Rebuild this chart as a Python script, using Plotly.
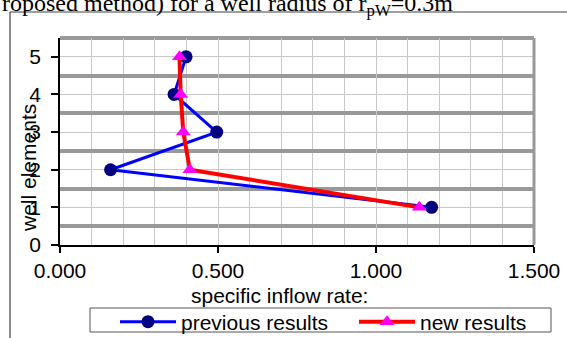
import plotly.graph_objects as go

# Well element index (1 = lowest element of the well)
elements = [1, 2, 3, 4, 5]
# Specific inflow rate per well element
previous_results = [1.176, 0.160, 0.496, 0.361, 0.399]
new_results = [1.137, 0.411, 0.390, 0.382, 0.378]

x_tick_values = [0.0, 0.5, 1.0, 1.5]
y_tick_values = [0, 1, 2, 3, 4, 5]

caption_text = "roposed method) for a well radius of r<sub>pW</sub>=0.3m"
x_title = "specific inflow rate:"
y_title = "well elements"

SANS = "Liberation Sans, Arial, sans-serif"
SERIF = "Liberation Serif, Times New Roman, serif"

W, H = 567, 338
L, R, T, B = 60, 33, 38, 93
PW, PH = W - L - R, H - T - B


def px_x(px):
    """Page pixel column -> paper x."""
    return (px - L) / PW


def px_y(py):
    """Page pixel row -> paper y."""
    return (H - B - py) / PH


fig = go.Figure()
fig.add_trace(go.Scatter(
    x=previous_results, y=elements, mode="lines+markers", name="previous results",
    line=dict(color="#0000FF", width=3),
    marker=dict(symbol="circle", size=13, color="#000080"),
))
fig.add_trace(go.Scatter(
    x=new_results, y=elements, mode="lines+markers", name="new results",
    line=dict(color="#FF0000", width=4),
    marker=dict(symbol="triangle-up", size=13, color="#FF00FF"),
))

axis_font = dict(family=SANS, size=21, color="black")

fig.update_layout(
    width=W, height=H,
    margin=dict(l=L, r=R, t=T, b=B, autoexpand=False),
    paper_bgcolor="white", plot_bgcolor="white",
    showlegend=True,
    legend=dict(
        orientation="h", x=px_x(115), y=px_y(301.5), xanchor="left", yanchor="top",
        font=axis_font, itemwidth=56, entrywidth=168,
        bgcolor="rgba(0,0,0,0)", borderwidth=0,
    ),
    xaxis=dict(
        range=[0, 1.5], tickmode="array", tickvals=x_tick_values, tickformat=".3f",
        showline=True, linecolor="black", linewidth=1.5,
        ticks="outside", ticklen=6, tickwidth=1.5, tickcolor="black",
        showgrid=True, gridcolor="#c8c8c8", gridwidth=1,
        minor=dict(tick0=0, dtick=0.1, showgrid=True, gridcolor="#c8c8c8", gridwidth=1),
        zeroline=False, tickfont=axis_font, fixedrange=True,
    ),
    yaxis=dict(
        range=[0, 5.5], tickmode="array", tickvals=y_tick_values,
        showline=True, linecolor="black", linewidth=1.5,
        ticks="outside", ticklen=7, tickwidth=1.5, tickcolor="black",
        ticklabelstandoff=6,
        showgrid=True, gridcolor="#c8c8c8", gridwidth=1,
        minor=dict(tick0=0.5, dtick=1, showgrid=True, gridcolor="#999999", gridwidth=4),
        zeroline=False, tickfont=axis_font, fixedrange=True,
    ),
)

# Plot-area border: thick grey top and right edges
fig.add_shape(type="line", xref="paper", yref="paper", x0=0, x1=1, y0=1, y1=1,
              line=dict(color="#999999", width=4), layer="below")
fig.add_shape(type="line", xref="paper", yref="paper", x0=1, x1=1, y0=0, y1=1,
              line=dict(color="#999999", width=3), layer="above")

# Chart frame (left and top edges)
fig.add_shape(type="line", xref="paper", yref="paper",
              x0=px_x(10), x1=px_x(10), y0=px_y(12), y1=px_y(345),
              line=dict(color="#404040", width=1.2))
fig.add_shape(type="line", xref="paper", yref="paper",
              x0=px_x(10), x1=px_x(575), y0=px_y(12), y1=px_y(12),
              line=dict(color="#404040", width=1.2))

# Legend box
fig.add_shape(type="rect", xref="paper", yref="paper",
              x0=px_x(90), x1=px_x(551), y0=px_y(332), y1=px_y(308),
              line=dict(color="#555555", width=1), fillcolor="rgba(0,0,0,0)")

# Caption, axis titles
fig.add_annotation(text=caption_text, xref="paper", yref="paper",
                   x=px_x(0), y=px_y(22), xanchor="left", yanchor="bottom",
                   showarrow=False, font=dict(family=SERIF, size=24, color="black"))
fig.add_annotation(text=x_title, xref="paper", yref="paper",
                   x=px_x(279.5), y=px_y(295), xanchor="center", yanchor="middle",
                   showarrow=False, font=axis_font)
fig.add_annotation(text=y_title, xref="paper", yref="paper",
                   x=px_x(28), y=px_y(168), xanchor="center", yanchor="middle",
                   textangle=-90, showarrow=False, font=axis_font)

fig.write_html("out.html")
